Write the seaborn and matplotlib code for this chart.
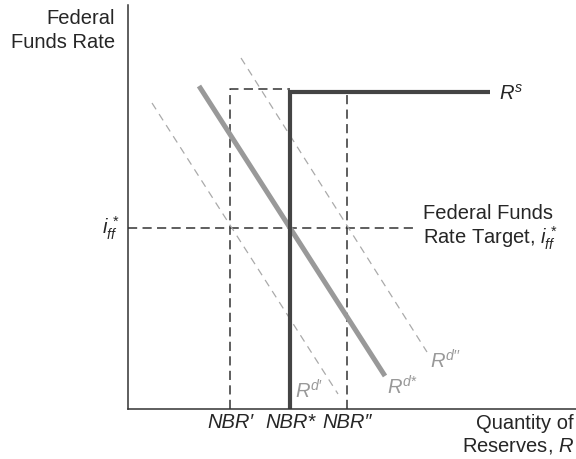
import matplotlib
matplotlib.use("Agg")
import matplotlib.pyplot as plt
import seaborn as sns
import pandas as pd

# ---- data (arbitrary diagram units) ----
nbr_pos = [102, 162, 219]                 # NBR', NBR*, NBR''
nbr_labels = ["NBR\u2032", "NBR*", "NBR\u2033"]
iff_target = 181                          # federal funds rate target
rs_cap = 317                              # discount-rate cap of supply curve
rs_end = 362
box_top = 320
iff_line_end = 285

rd_star_x = [71, 257]
rd_star_y = [323, 33]
rd_low_x = [24, 210]
rd_low_y = [306, 15]
rd_high_x = [113, 299]
rd_high_y = [351, 57]

sns.set_style("white")
plt.rcParams["font.family"] = ["Liberation Sans", "DejaVu Sans"]
plt.rcParams["mathtext.fontset"] = "custom"
plt.rcParams["mathtext.it"] = "Liberation Sans:italic"
plt.rcParams["mathtext.rm"] = "Liberation Sans"
plt.rcParams["mathtext.bf"] = "Liberation Sans:bold"

fig = plt.figure(figsize=(5.76, 4.59), dpi=100)
ax = fig.add_axes([128 / 576, 50 / 459, 448 / 576, 404 / 459])
ax.set_xlim(0, 448)
ax.set_ylim(0, 404)

dash_k = dict(color="#333333", lw=1.1, linestyle=(0, (6, 3.5)))
dash_g = dict(color="#aaaaaa", lw=0.9, linestyle=(0, (6, 4.5)))


def seg(x, y, **kw):
    df = pd.DataFrame({"x": x, "y": y})
    sns.lineplot(data=df, x="x", y="y", estimator=None, sort=False, ax=ax, **kw)


# dashed guides
seg([0, iff_line_end], [iff_target, iff_target], **dash_k)
seg([nbr_pos[0], nbr_pos[0], nbr_pos[1]], [0, box_top, box_top], **dash_k)
seg([nbr_pos[2], nbr_pos[2]], [0, rs_cap], **dash_k)

# shifted demand curves
seg(rd_low_x, rd_low_y, **dash_g)
seg(rd_high_x, rd_high_y, **dash_g)

# main demand curve
seg(rd_star_x, rd_star_y, color="#999999", lw=3.6, solid_capstyle="butt")

# supply curve
seg([nbr_pos[1], nbr_pos[1], rs_end], [0, rs_cap, rs_cap], color="#444444", lw=3.0,
    solid_capstyle="butt", solid_joinstyle="miter")

ax.set_xlabel("")
ax.set_ylabel("")
ax.set_xticks([])
ax.set_yticks([])
for s in ["top", "right"]:
    ax.spines[s].set_visible(False)
for s in ["left", "bottom"]:
    ax.spines[s].set_color("#333333")
    ax.spines[s].set_linewidth(1.1)

fs = 14.5
gray = "#999999"
ax.text(-13, 400, "Federal\nFunds Rate", ha="right", va="top", fontsize=fs,
        linespacing=1.3, clip_on=False)
ax.text(-8, iff_target, r"$i_{ff}^{\,*}$", ha="right", va="center", fontsize=fs, clip_on=False)
ax.text(295, iff_target, "Federal Funds\nRate Target, $i_{ff}^{\\,*}$", ha="left",
        va="center", fontsize=fs, linespacing=1.1)
ax.text(rs_end + 9, rs_cap - 2, r"$R^{s}$", ha="left", va="center", fontsize=fs)
ax.text(rd_star_x[1] + 2, 22, r"$R^{d{*}}$", ha="left", va="center", fontsize=fs, color=gray)
ax.text(rd_low_x[1] - 43, 18, r"$R^{d\prime}$", ha="left", va="center", fontsize=fs, color=gray)
ax.text(rd_high_x[1] + 3, 48, r"$R^{d\prime\prime}$", ha="left", va="center", fontsize=fs, color=gray)
for xp, lab in zip(nbr_pos, nbr_labels):
    ax.text(xp, -13, lab, ha="center", va="center", fontsize=fs, style="italic",
            family=["Liberation Sans", "DejaVu Sans"], clip_on=False)
ax.text(446, -26, "Quantity of\nReserves, $R$", ha="right", va="center", fontsize=fs,
        linespacing=1.15, clip_on=False)

fig.savefig("out.png", dpi=100)
